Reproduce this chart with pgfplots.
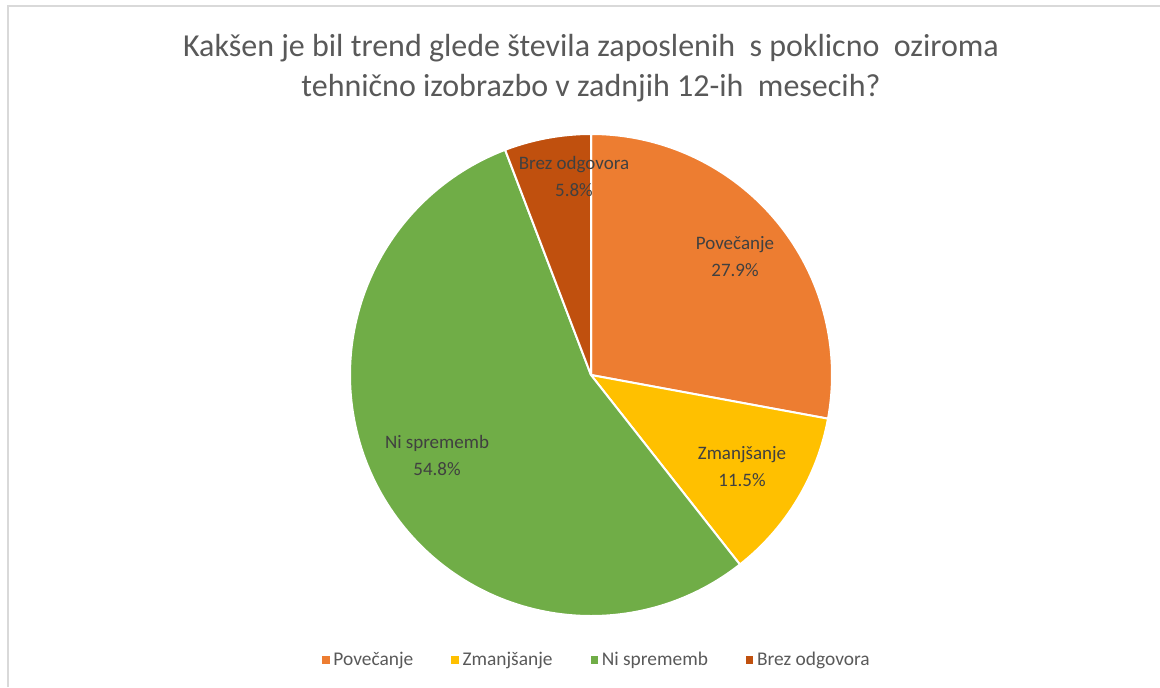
\documentclass[border=0pt]{standalone}
\usepackage{fontspec}
\setmainfont{Carlito}
\usepackage{pgfplots}
\usepackage{pgfplotstable}
\pgfplotsset{compat=1.18}

\definecolor{povecanje}{HTML}{ED7D31}
\definecolor{zmanjsanje}{HTML}{FFC000}
\definecolor{nisprememb}{HTML}{70AD47}
\definecolor{brezodg}{HTML}{C0500E}
\definecolor{titlegray}{HTML}{595959}
\definecolor{labelgray}{HTML}{404040}
\definecolor{framegray}{HTML}{D9D9D9}

% share in percent, label position (picture px, y up)
\pgfplotstableread[col sep=comma]{
label,value,colour,lx,ly
Povečanje,27.9,povecanje,735,430
Zmanjšanje,11.5,zmanjsanje,742,220
Ni sprememb,54.8,nisprememb,437,232
Brez odgovora,5.8,brezodg,574,511
}\piedata

\newcommand\slicefont{\fontsize{9.5}{13.5}\selectfont}

\begin{document}
\begin{tikzpicture}
\path[use as bounding box] (0,0) rectangle (580pt,343.5pt);
\begin{axis}[
    at={(0,0)}, anchor=south west,
    x=0.5pt, y=0.5pt,
    xmin=0, xmax=1160, ymin=0, ymax=687,
    scale only axis,
    hide axis,
    clip=false,
    legend columns=4,
    legend style={
        at={(axis cs:598,27)}, anchor=center,
        draw=none, fill=none,
        font=\fontsize{9.7}{11}\selectfont,
        text=titlegray,
        /tikz/every even column/.append style={column sep=17pt},
    },
]
% chart frame
\draw[framegray, line width=0.8pt] (axis cs:8,0) -- (axis cs:8,681) -- (axis cs:1160,681);

\def\cum{0}
\pgfplotstablegetrowsof{\piedata}
\pgfmathtruncatemacro\nrows{\pgfplotsretval-1}
\pgfplotsforeachungrouped \i in {0,...,\nrows}{
    \pgfplotstablegetelem{\i}{value}\of\piedata \let\val\pgfplotsretval
    \pgfplotstablegetelem{\i}{colour}\of\piedata \let\col\pgfplotsretval
    \pgfmathsetmacro\sa{90-3.6*\cum}
    \pgfmathsetmacro\ea{90-3.6*(\cum+\val)}
    \pgfmathsetmacro\cum{\cum+\val}
    \edef\next{\noexpand\filldraw[fill=\col, draw=white, line width=1pt, line join=round]
        (axis cs:591,312) -- ++(\sa:120.5pt)
        arc[start angle=\sa, end angle=\ea, radius=120.5pt] -- cycle;}
    \next
}
\pgfplotsforeachungrouped \i in {0,...,\nrows}{
    \pgfplotstablegetelem{\i}{value}\of\piedata \let\val\pgfplotsretval
    \pgfplotstablegetelem{\i}{label}\of\piedata \let\lab\pgfplotsretval
    \pgfplotstablegetelem{\i}{lx}\of\piedata \let\lx\pgfplotsretval
    \pgfplotstablegetelem{\i}{ly}\of\piedata \let\ly\pgfplotsretval
    \edef\next{\noexpand\node[font=\noexpand\slicefont, text=labelgray, align=center]
        at (axis cs:\lx,\ly) {\lab\noexpand\\\val\noexpand\%};}
    \next
}

% title
\node[font=\fontsize{16}{20}\selectfont, text=titlegray, align=center]
    at (axis cs:591,619) {Kakšen je bil trend glede števila zaposlenih\ \ s poklicno\ \ oziroma\\
    tehnično izobrazbo v zadnjih 12-ih\ \ mesecih?};

\addlegendimage{legend image code/.code={\fill[povecanje] (0pt,-1.6pt) rectangle (3.2pt,1.6pt);}}
\addlegendentry{Povečanje}
\addlegendimage{legend image code/.code={\fill[zmanjsanje] (0pt,-1.6pt) rectangle (3.2pt,1.6pt);}}
\addlegendentry{Zmanjšanje}
\addlegendimage{legend image code/.code={\fill[nisprememb] (0pt,-1.6pt) rectangle (3.2pt,1.6pt);}}
\addlegendentry{Ni sprememb}
\addlegendimage{legend image code/.code={\fill[brezodg] (0pt,-1.6pt) rectangle (3.2pt,1.6pt);}}
\addlegendentry{Brez odgovora}
\end{axis}
\end{tikzpicture}
\end{document}
